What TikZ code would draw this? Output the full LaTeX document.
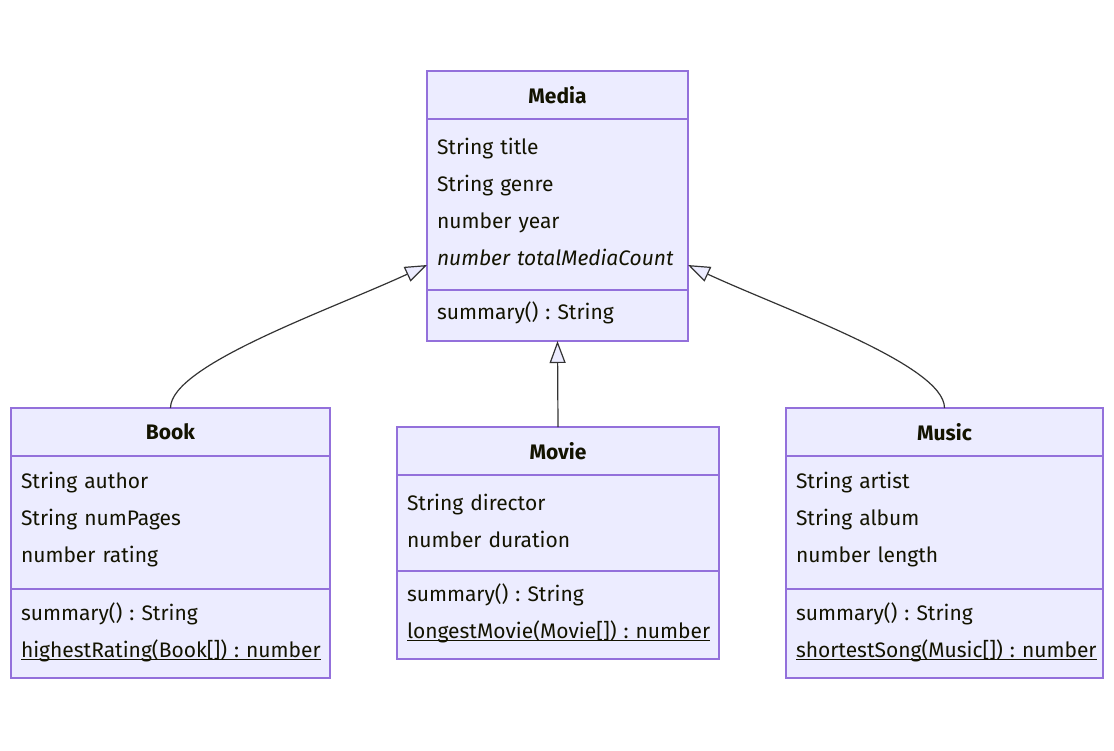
\documentclass[tikz,border=0pt]{standalone}
\usepackage{fontspec}
\setmainfont{Fira Sans}
\usepackage{xcolor}
\usetikzlibrary{positioning, arrows.meta, calc}

\definecolor{classFill}{HTML}{ECECFF}
\definecolor{classBorder}{HTML}{9370DB}
\definecolor{linkGray}{HTML}{333333}
\definecolor{textDark}{HTML}{131300}

\newcommand{\staticop}[1]{\underline{\smash{#1}}}

\tikzset{
    classhead/.style={draw=classBorder, fill=classFill, line width=1.3pt, outer sep=0pt, minimum height=48pt, inner sep=0pt, font=\fontsize{21}{37}\selectfont\bfseries},
    classpart/.style={draw=classBorder, fill=classFill, line width=1.3pt, outer sep=0pt, inner xsep=10pt, inner ysep=0pt, align=left, execute at end node={\par\vspace{5pt}}},
    inherit/.style={draw=linkGray, line width=1.2pt, ->}
}

\begin{document}
\frenchspacing
\begin{tikzpicture}[x=1pt, y=-1pt, >={Triangle[length=22pt, width=16pt, fill=classFill]},
    every node/.style={font=\fontsize{21}{37}\selectfont\frenchspacing, text=textDark}]
    \useasboundingbox (0,0) rectangle (1114,750);

    % Media
    \node (mediaHead) [classhead, minimum width=261pt, anchor=north west] at (427,71) {Media};
    \node (mediaAttr) [classpart, minimum width=261pt, text width=241pt, minimum height=171pt, below=0pt of mediaHead] {String title\\String genre\\number year\\\textit{number totalMediaCount}};
    \node (mediaOps) [classpart, minimum width=261pt, text width=241pt, minimum height=51pt, below=0pt of mediaAttr] {summary() : String};

    % Book
    \node (bookHead) [classhead, minimum width=319pt, anchor=north west] at (11,408) {Book};
    \node (bookAttr) [classpart, minimum width=319pt, text width=299pt, minimum height=133pt, below=0pt of bookHead] {String author\\String numPages\\number rating};
    \node (bookOps) [classpart, minimum width=319pt, text width=299pt, minimum height=89pt, below=0pt of bookAttr] {summary() : String\\\staticop{highestRating(Book[]) : number}};

    % Movie
    \node (movieHead) [classhead, minimum width=322pt, anchor=north west] at (397,427) {Movie};
    \node (movieAttr) [classpart, minimum width=322pt, text width=302pt, minimum height=96pt, below=0pt of movieHead] {String director\\number duration};
    \node (movieOps) [classpart, minimum width=322pt, text width=302pt, minimum height=88pt, below=0pt of movieAttr] {summary() : String\\\staticop{longestMovie(Movie[]) : number}};

    % Music
    \node (musicHead) [classhead, minimum width=317pt, anchor=north west] at (786,408) {Music};
    \node (musicAttr) [classpart, minimum width=317pt, text width=297pt, minimum height=133pt, below=0pt of musicHead] {String artist\\String album\\number length};
    \node (musicOps) [classpart, minimum width=317pt, text width=297pt, minimum height=89pt, below=0pt of musicAttr] {summary() : String\\\staticop{shortestSong(Music[]) : number}};

    % Inheritance links
    \coordinate (mediaW) at ($(mediaAttr.south west)+(0,-25)$);
    \coordinate (mediaE) at ($(mediaAttr.south east)+(0,-25)$);
    \draw [inherit] (bookHead.north) .. controls +(0,-43) and +(-97,45) .. (mediaW);
    \draw [inherit] (movieHead.north) -- (mediaOps.south);
    \draw [inherit] (musicHead.north) .. controls +(0,-43) and +(97,45) .. (mediaE);
\end{tikzpicture}
\end{document}
